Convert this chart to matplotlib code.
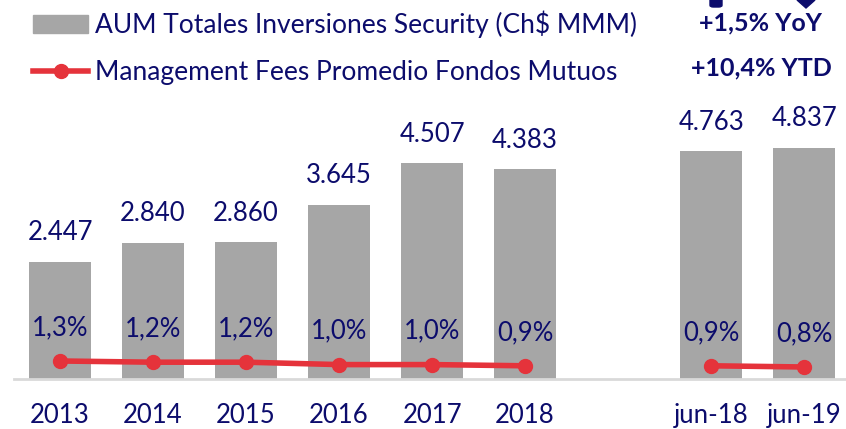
import matplotlib.pyplot as plt
from matplotlib.patches import Patch, FancyBboxPatch, Polygon
from matplotlib.lines import Line2D
import numpy as np

plt.rcParams['font.family'] = ['Lato', 'DejaVu Sans']

categorias = ["2013", "2014", "2015", "2016", "2017", "2018", "", "jun-18", "jun-19"]
aum = [2.447, 2.840, 2.860, 3.645, 4.507, 4.383, None, 4.763, 4.837]
fees = [1.3, 1.2, 1.2, 1.0, 1.0, 0.9, None, 0.9, 0.8]
aum_txt = ["2.447", "2.840", "2.860", "3.645", "4.507", "4.383", "", "4.763", "4.837"]
fees_txt = ["1,3%", "1,2%", "1,2%", "1,0%", "1,0%", "0,9%", "", "0,9%", "0,8%"]

navy = "#0C0C6C"
gris = "#A6A6A6"
rojo = "#E5333B"

W, H = 846, 429
fig = plt.figure(figsize=(W / 100, H / 100), dpi=100)
ax = fig.add_axes([13.5 / W, 50 / H, 1 - 13.5 / W, 287 / H])
ax2 = ax.twinx()

x = np.arange(len(categorias))
idx = [i for i, v in enumerate(aum) if v is not None]
ax.bar([x[i] for i in idx], [aum[i] for i in idx], width=0.667, color=gris, zorder=2)
for i in idx:
    ax.annotate(aum_txt[i], (x[i], aum[i]), xytext=(0, 21), textcoords='offset points',
                ha='center', va='center', fontsize=18.5, color=navy)

# la línea de fees se corta en el hueco entre 2018 y jun-18
for tramo in ([0, 1, 2, 3, 4, 5], [7, 8]):
    ax2.plot([x[i] for i in tramo], [fees[i] for i in tramo], color=rojo, lw=4,
             marker='o', ms=10, solid_capstyle='round', zorder=3)
for i in idx:
    ax2.annotate(fees_txt[i], (x[i], fees[i]), xytext=(0, 24), textcoords='offset points',
                 ha='center', va='center', fontsize=18.5, color=navy)

ax.set_xlim(-0.5, 8.45)
ax.set_ylim(0, 6)
ax2.set_ylim(-0.2, 23.7)
ax.set_xticks(x)
ax.set_xticklabels(categorias, fontsize=18.5, color=navy)
ax.tick_params(axis='x', length=0, pad=17)
ax.set_yticks([])
ax2.set_yticks([])
for a in (ax, ax2):
    for s in ('top', 'right', 'left'):
        a.spines[s].set_visible(False)
ax.spines['bottom'].set_color('#D9D9D9')
ax.spines['bottom'].set_linewidth(2)
ax2.spines['bottom'].set_visible(False)

handles = [Patch(color=gris),
           Line2D([0], [0], color=rojo, lw=4, marker='o', ms=10)]
labels = ["AUM Totales Inversiones Security (Ch$ MMM)",
          "Management Fees Promedio Fondos Mutuos"]
leg = fig.legend(handles, labels, loc='upper left', bbox_to_anchor=(33 / W, 1 - 11 / H),
                 frameon=False, fontsize=19, handlelength=2.1, handleheight=0.65,
                 handletextpad=0.25, labelspacing=0.82, borderaxespad=0, borderpad=0)
for t in leg.get_texts():
    t.set_color(navy)

fig.text(760 / W, 1 - 23 / H, "+1,5% YoY", ha='center', va='center',
         fontsize=18, fontweight='bold', color=navy)
fig.text(761 / W, 1 - 68 / H, "+10,4% YTD", ha='center', va='center',
         fontsize=18, fontweight='bold', color=navy)

# extremos de las flechas de variación que asoman arriba
fig.patches.append(FancyBboxPatch((710 / W, 1 - 7 / H), 12 / W, 10 / H,
                                  boxstyle='round,pad=0,rounding_size=0.004',
                                  transform=fig.transFigure, color=navy))
fig.patches.append(Polygon([(797 / W, 1.0), (815 / W, 1.0), (806 / W, 1 - 8 / H)],
                           closed=True, transform=fig.transFigure, color=navy))

fig.savefig("out.png", dpi=100)
